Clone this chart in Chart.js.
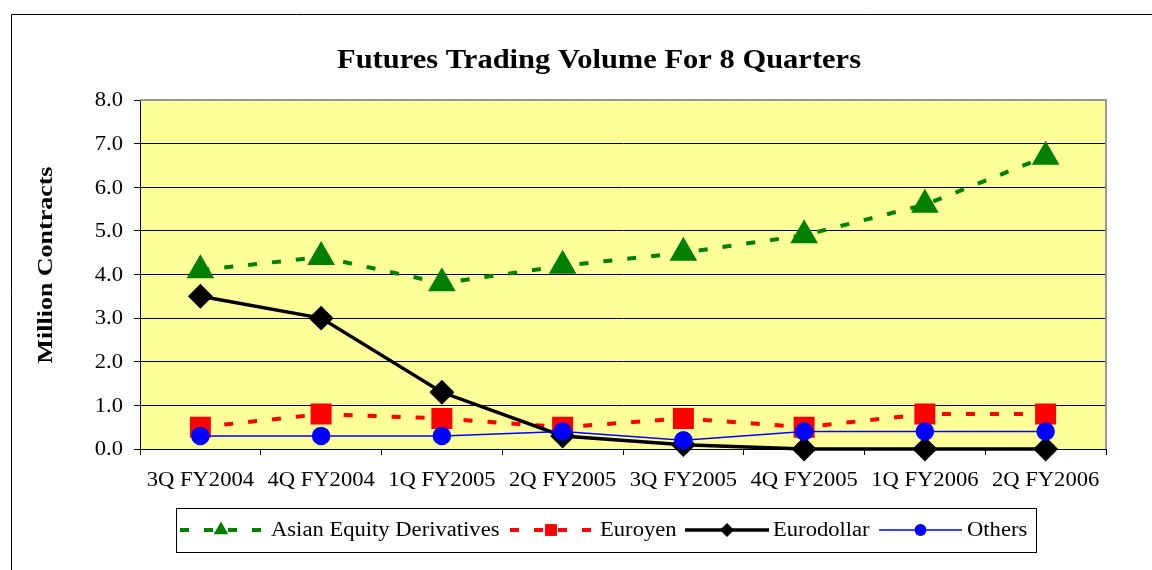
<!DOCTYPE html>
<html>
<head>
<meta charset="utf-8">
<script src="https://cdn.jsdelivr.net/npm/chart.js@4/dist/chart.umd.min.js"></script>
<style>
  html, body { margin: 0; padding: 0; background: #fff; }
  #wrap { width: 1152px; height: 570px; }
</style>
</head>
<body>
<div id="wrap"><canvas id="chart" width="1152" height="570"></canvas></div>
<script>
// chart data
const quarters = ['3Q FY2004', '4Q FY2004', '1Q FY2005', '2Q FY2005', '3Q FY2005', '4Q FY2005', '1Q FY2006', '2Q FY2006'];
const asianEquity = [4.1, 4.4, 3.8, 4.2, 4.5, 4.9, 5.6, 6.7];
const euroyen = [0.5, 0.8, 0.7, 0.5, 0.7, 0.5, 0.8, 0.8];
const eurodollar = [3.5, 3.0, 1.3, 0.3, 0.1, 0.0, 0.0, 0.0];
const others = [0.3, 0.3, 0.3, 0.4, 0.2, 0.4, 0.4, 0.4];
const yTicks = [0, 1, 2, 3, 4, 5, 6, 7, 8];

const serif = '"Liberation Serif", "Times New Roman", serif';
const stretch = 1.13; // 原图文字横向偏宽

// 横向拉伸的文字
function wideText(ctx, text, x, y, align, sx) {
    ctx.save();
    ctx.translate(x, y);
    ctx.scale(sx || stretch, 1);
    ctx.textAlign = align;
    ctx.fillText(text, 0, 0);
    ctx.restore();
}

// 画一个图例标记
function drawMarker(ctx, style, x, y, r, color) {
    ctx.save();
    ctx.fillStyle = color;
    ctx.beginPath();
    if (style === 'triangle') {
        ctx.moveTo(x, y - r);
        ctx.lineTo(x + r * 0.866, y + r * 0.5);
        ctx.lineTo(x - r * 0.866, y + r * 0.5);
    } else if (style === 'rect') {
        const s = r * Math.SQRT1_2;
        ctx.rect(x - s, y - s, 2 * s, 2 * s);
    } else if (style === 'rectRot') {
        ctx.moveTo(x, y - r);
        ctx.lineTo(x + r, y);
        ctx.lineTo(x, y + r);
        ctx.lineTo(x - r, y);
    } else {
        ctx.arc(x, y, r, 0, Math.PI * 2);
    }
    ctx.closePath();
    ctx.fill();
    ctx.restore();
}

// 背景、标题、刻度文字、图例
const decorPlugin = {
    id: 'decor',
    beforeDraw(chart) {
        const ctx = chart.ctx;
        const a = chart.chartArea;
        ctx.save();
        ctx.fillStyle = '#fff';
        ctx.fillRect(0, 0, chart.width, chart.height);
        ctx.strokeStyle = '#000';
        ctx.lineWidth = 1;
        ctx.beginPath();
        ctx.moveTo(11.5, chart.height);
        ctx.lineTo(11.5, 14.5);
        ctx.lineTo(chart.width, 14.5);
        ctx.stroke();
        ctx.fillStyle = '#FFFF99';
        ctx.fillRect(a.left, a.top, a.right - a.left, a.bottom - a.top);
        ctx.restore();
    },
    beforeDatasetsDraw(chart) {
        const ctx = chart.ctx;
        const a = chart.chartArea;
        ctx.save();
        ctx.strokeStyle = '#999';
        ctx.lineWidth = 2;
        ctx.beginPath();
        ctx.moveTo(a.left, a.top);
        ctx.lineTo(a.right, a.top);
        ctx.lineTo(a.right, a.bottom);
        ctx.stroke();
        ctx.restore();
    },
    afterDraw(chart) {
        const ctx = chart.ctx;
        const xs = chart.scales.x;
        const ys = chart.scales.y;
        ctx.save();
        ctx.fillStyle = '#000';
        ctx.textBaseline = 'middle';

        // title
        ctx.font = 'bold 27px ' + serif;
        wideText(ctx, 'Futures Trading Volume For 8 Quarters', 599, 61, 'center');

        // y title
        ctx.save();
        ctx.translate(46, 265);
        ctx.rotate(-Math.PI / 2);
        ctx.font = 'bold 22px ' + serif;
        wideText(ctx, 'Million Contracts', 0, 0, 'center', 1.18);
        ctx.restore();

        // tick labels
        ctx.font = '20px ' + serif;
        quarters.forEach((q, i) => {
            wideText(ctx, q, xs.getPixelForValue(i), 481, 'center');
        });
        yTicks.forEach(v => {
            wideText(ctx, v.toFixed(1), 123, ys.getPixelForValue(v) + 1, 'right');
        });

        // legend box
        ctx.strokeStyle = '#000';
        ctx.lineWidth = 1;
        ctx.strokeRect(176.5, 508.5, 860, 44);
        const items = [
            { x0: 180, x1: 262, tx: 271 },
            { x0: 510, x1: 592, tx: 600 },
            { x0: 685, x1: 769, tx: 773 },
            { x0: 879, x1: 962, tx: 967 }
        ];
        const ly = 530;
        ctx.font = '20px ' + serif;
        chart.data.datasets.forEach((ds, i) => {
            const it = items[i];
            ctx.save();
            ctx.strokeStyle = ds.borderColor;
            ctx.lineWidth = ds.borderWidth;
            ctx.setLineDash(ds.borderDash || []);
            ctx.beginPath();
            ctx.moveTo(it.x0, ly);
            ctx.lineTo(it.x1, ly);
            ctx.stroke();
            ctx.restore();
            drawMarker(ctx, ds.pointStyle, (it.x0 + it.x1) / 2, ly, ds.pointRadius * 0.7, ds.borderColor);
            ctx.fillStyle = '#000';
            wideText(ctx, ds.label, it.tx, ly + 1, 'left');
        });
        ctx.restore();
    }
};

new Chart(document.getElementById('chart'), {
    type: 'line',
    data: {
        labels: quarters,
        datasets: [
            {
                label: 'Asian Equity Derivatives',
                data: asianEquity,
                borderColor: '#008000',
                backgroundColor: '#008000',
                borderWidth: 4,
                borderDash: [9, 15],
                pointStyle: 'triangle',
                pointRadius: 12,
                order: 3
            },
            {
                label: 'Euroyen',
                data: euroyen,
                borderColor: '#FF0000',
                backgroundColor: '#FF0000',
                borderWidth: 4,
                borderDash: [9, 15],
                pointStyle: 'rect',
                pointRadius: 12,
                order: 2
            },
            {
                label: 'Eurodollar',
                data: eurodollar,
                borderColor: '#000000',
                backgroundColor: '#000000',
                borderWidth: 3.5,
                pointStyle: 'rectRot',
                pointRadius: 10,
                order: 1
            },
            {
                label: 'Others',
                data: others,
                borderColor: '#0000FF',
                backgroundColor: '#0000FF',
                borderWidth: 1.5,
                pointStyle: 'circle',
                pointRadius: 8.5,
                order: 0
            }
        ]
    },
    options: {
        responsive: false,
        animation: false,
        clip: false,
        layout: { padding: { left: 0, top: 100, right: 46, bottom: 71 } },
        elements: {
            line: { tension: 0 },
            point: { borderWidth: 0, hoverRadius: 0 }
        },
        plugins: {
            legend: { display: false },
            title: { display: false },
            tooltip: { enabled: false }
        },
        scales: {
            x: {
                offset: true,
                afterFit(scale) { scale.height = 50; },
                grid: {
                    offset: true,
                    drawOnChartArea: false,
                    drawTicks: true,
                    tickLength: 6,
                    tickColor: '#000'
                },
                border: { color: '#000', width: 1 },
                ticks: {
                    color: 'rgba(0,0,0,0)',
                    font: { family: serif, size: 20 },
                    padding: 8,
                    maxRotation: 0,
                    autoSkip: false
                }
            },
            y: {
                min: yTicks[0],
                max: yTicks[yTicks.length - 1],
                afterFit(scale) { scale.width = 140; },
                afterBuildTicks(scale) { scale.ticks = yTicks.map(v => ({ value: v })); },
                grid: {
                    color: ctx => (ctx.tick && ctx.tick.value === 8 ? 'rgba(0,0,0,0)' : '#000'),
                    lineWidth: 1,
                    tickLength: 6,
                    tickColor: '#000'
                },
                border: { color: '#000', width: 1 },
                ticks: {
                    color: 'rgba(0,0,0,0)',
                    font: { family: serif, size: 20 },
                    padding: 10,
                    callback: v => v.toFixed(1)
                }
            }
        }
    },
    plugins: [decorPlugin]
});
</script>
</body>
</html>
